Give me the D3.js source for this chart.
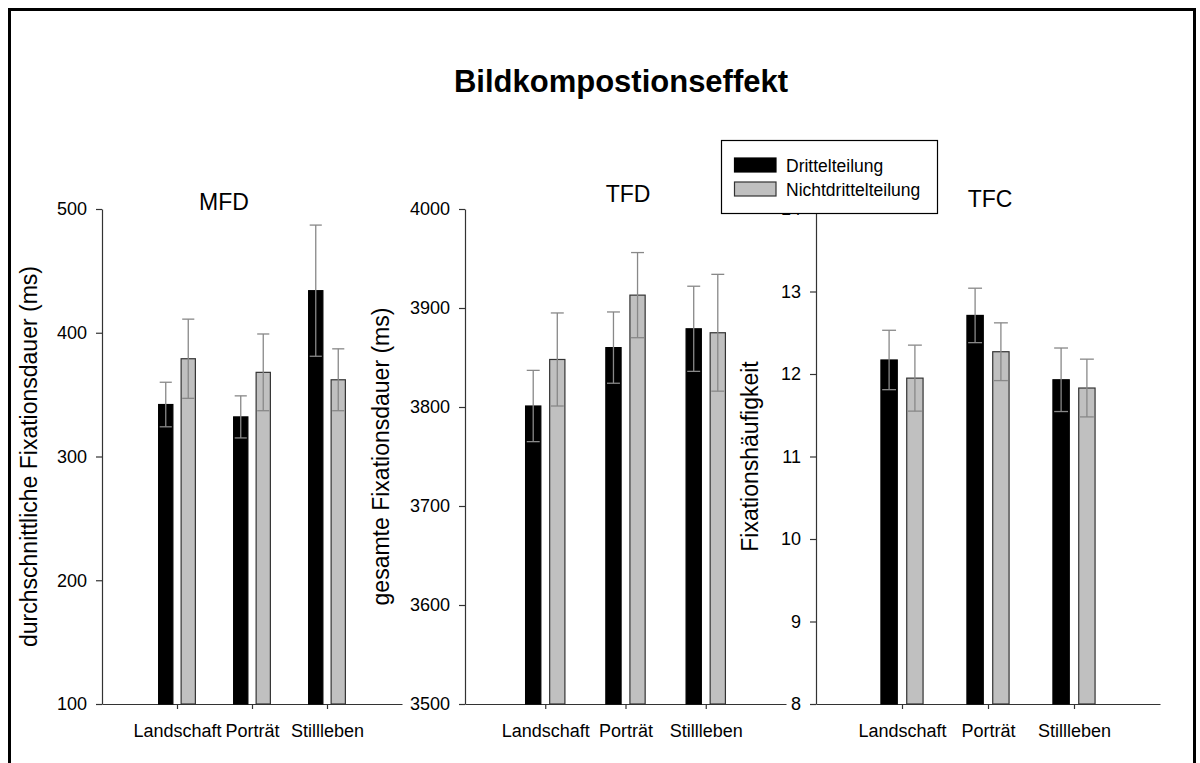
<!DOCTYPE html>
<html>
<head>
<meta charset="utf-8">
<script src="https://cdn.jsdelivr.net/npm/d3@7"></script>
<style>
  body { margin: 0; background: #fff; }
  text { font-family: "Liberation Sans", Arial, sans-serif; }
</style>
</head>
<body>
<script>
const width = 1200;
const height = 763;

// data
const categories = ['Landschaft', 'Porträt', 'Stillleben'];
const seriesNames = ['Drittelteilung', 'Nichtdrittelteilung'];

const mfdDrittel = [342, 332, 434];
const mfdDrittelErr = [18, 17, 53];
const mfdNicht = [379, 368, 362];
const mfdNichtErr = [32, 31, 25];

const tfdDrittel = [3801, 3860, 3879];
const tfdDrittelErr = [36, 36, 43];
const tfdNicht = [3848, 3913, 3875];
const tfdNichtErr = [47, 43, 59];

const tfcDrittel = [12.17, 12.71, 11.93];
const tfcDrittelErr = [0.36, 0.33, 0.385];
const tfcNicht = [11.95, 12.27, 11.83];
const tfcNichtErr = [0.40, 0.35, 0.35];

const mfdTicks = [100, 200, 300, 400, 500];
const tfdTicks = [3500, 3600, 3700, 3800, 3900, 4000];
const tfcTicks = [8, 9, 10, 11, 12, 13, 14];

const colors = ['#000000', '#c0c0c0'];
const strokes = ['#000000', '#333333'];

let panels = [
    {
        title: 'MFD', titleX: 224, titleY: 210,
        label: 'durchschnittliche Fixationsdauer (ms)', labelX: 37,
        x0: 102, x1: 402, domain: [100, 500], ticks: mfdTicks,
        means: [mfdDrittel, mfdNicht], errs: [mfdDrittelErr, mfdNichtErr]
    },
    {
        title: 'TFD', titleX: 628, titleY: 202,
        label: 'gesamte Fixationsdauer (ms)', labelX: 389,
        x0: 465, x1: 786, domain: [3500, 4000], ticks: tfdTicks,
        means: [tfdDrittel, tfdNicht], errs: [tfdDrittelErr, tfdNichtErr]
    },
    {
        title: 'TFC', titleX: 990, titleY: 207,
        label: 'Fixationshäufigkeit', labelX: 758,
        x0: 816, x1: 1160, domain: [8, 14], ticks: tfcTicks,
        means: [tfcDrittel, tfcNicht], errs: [tfcDrittelErr, tfcNichtErr]
    }
];

const plotTop = 209;
const plotBottom = 704;

let svg = d3.select('body')
    .append('svg')
    .attr('width', width)
    .attr('height', height);

svg.append('rect')
    .attr('x', 9.5)
    .attr('y', 9.5)
    .attr('width', 1185)
    .attr('height', 800)
    .attr('fill', '#fff')
    .attr('stroke', '#000')
    .attr('stroke-width', 3);

svg.append('text')
    .attr('x', 621)
    .attr('y', 92)
    .attr('text-anchor', 'middle')
    .style('font-size', '31px')
    .style('font-weight', 'bold')
    .text('Bildkompostionseffekt');

panels.forEach(p => {
    let g = svg.append('g').classed('panel', true);

    let xScale = d3.scaleLinear()
        .domain([0, 4])
        .range([p.x0, p.x1]);
    let yScale = d3.scaleLinear()
        .domain(p.domain)
        .range([plotBottom, plotTop]);

    let step = xScale(1) - xScale(0);
    let barWidth = step * 0.19;
    let gap = step * 0.11;
    let capWidth = barWidth * 0.85;

    let yAxis = d3.axisLeft(yScale)
        .tickValues(p.ticks)
        .tickFormat(d3.format('d'))
        .tickSize(6)
        .tickSizeOuter(0)
        .tickPadding(9);
    let xAxis = d3.axisBottom(xScale)
        .tickValues([1, 2, 3])
        .tickFormat(d => categories[d - 1])
        .tickSize(5)
        .tickSizeOuter(0)
        .tickPadding(15);

    let yAxisGroup = g.append('g')
        .attr('transform', `translate(${p.x0},0)`)
        .call(yAxis);
    let xAxisGroup = g.append('g')
        .attr('transform', `translate(0,${plotBottom})`)
        .call(xAxis);

    [yAxisGroup, xAxisGroup].forEach(a => {
        a.selectAll('path, line').attr('stroke', '#333').attr('stroke-width', 1.2);
        a.selectAll('text').attr('fill', '#000').style('font-size', '18px');
    });

    g.append('text')
        .attr('x', p.titleX)
        .attr('y', p.titleY)
        .attr('text-anchor', 'middle')
        .style('font-size', '23px')
        .text(p.title);

    g.append('text')
        .attr('transform', `translate(${p.labelX},${(plotTop + plotBottom) / 2}) rotate(-90)`)
        .attr('text-anchor', 'middle')
        .style('font-size', '23px')
        .text(p.label);

    p.means.forEach((vals, s) => {
        let bars = vals.map((v, i) => {
            let c = xScale(i + 1);
            let left = s === 0 ? c - gap / 2 - barWidth : c + gap / 2;
            return { x: left, mid: left + barWidth / 2, v: v, e: p.errs[s][i] };
        });

        g.selectAll('.bar-' + s)
            .data(bars)
            .enter()
            .append('rect')
            .attr('x', d => d.x)
            .attr('y', d => yScale(d.v))
            .attr('width', barWidth)
            .attr('height', d => plotBottom - yScale(d.v))
            .attr('fill', colors[s])
            .attr('stroke', strokes[s])
            .attr('stroke-width', 1.2);

        let err = g.selectAll('.err-' + s)
            .data(bars)
            .enter()
            .append('g')
            .attr('stroke', '#888')
            .attr('stroke-width', 1.3);
        err.append('line')
            .attr('x1', d => d.mid).attr('x2', d => d.mid)
            .attr('y1', d => yScale(d.v + d.e)).attr('y2', d => yScale(d.v - d.e));
        err.append('line')
            .attr('x1', d => d.mid - capWidth / 2).attr('x2', d => d.mid + capWidth / 2)
            .attr('y1', d => yScale(d.v + d.e)).attr('y2', d => yScale(d.v + d.e));
        err.append('line')
            .attr('x1', d => d.mid - capWidth / 2).attr('x2', d => d.mid + capWidth / 2)
            .attr('y1', d => yScale(d.v - d.e)).attr('y2', d => yScale(d.v - d.e));
    });
});

// legend sits over the top of the third panel
let legend = svg.append('g')
    .attr('transform', 'translate(721.5,140.5)');
legend.append('rect')
    .attr('width', 216)
    .attr('height', 73)
    .attr('fill', '#fff')
    .attr('stroke', '#000')
    .attr('stroke-width', 1.2);

seriesNames.forEach((name, i) => {
    legend.append('rect')
        .attr('x', 13)
        .attr('y', 17.5 + i * 24)
        .attr('width', 41.5)
        .attr('height', 14)
        .attr('fill', colors[i])
        .attr('stroke', strokes[i])
        .attr('stroke-width', 1.2);
    legend.append('text')
        .attr('x', 64.5)
        .attr('y', 31 + i * 24)
        .style('font-size', '17.5px')
        .text(name);
});
</script>
</body>
</html>
